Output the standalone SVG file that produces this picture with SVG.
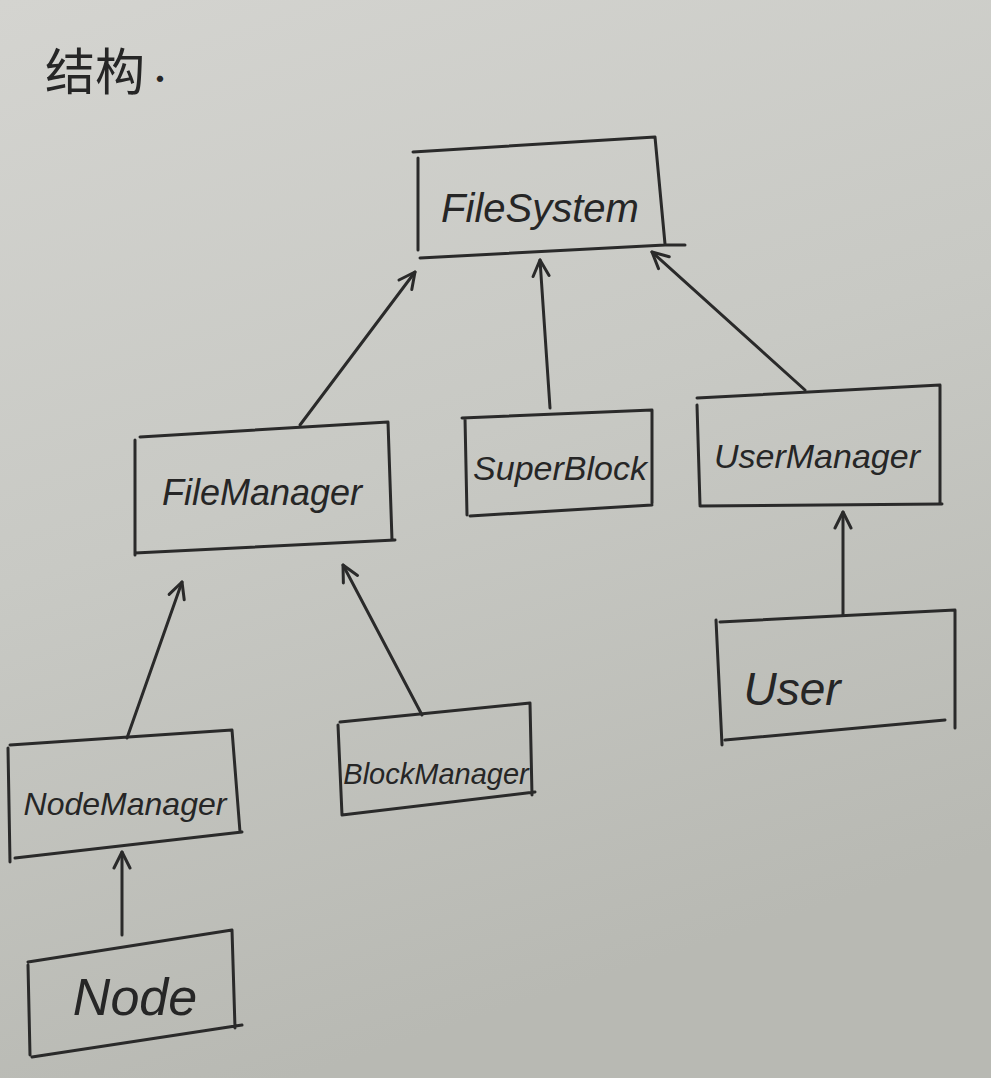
<svg xmlns="http://www.w3.org/2000/svg" width="991" height="1078" viewBox="0 0 991 1078">
<defs>
<linearGradient id="paper" x1="0" y1="0" x2="0.3" y2="1">
<stop offset="0" stop-color="#d4d4d0"/>
<stop offset="0.5" stop-color="#c8c9c4"/>
<stop offset="1" stop-color="#b8b9b3"/>
</linearGradient>
<marker id="arr" viewBox="0 0 20 20" refX="18" refY="10" markerWidth="20" markerHeight="20" markerUnits="userSpaceOnUse" orient="auto">
<path d="M2,2 L18,10 L2,18" fill="none" stroke="#2a2a2a" stroke-width="3" stroke-linecap="round" stroke-linejoin="round"/>
</marker>
<style>
.box{fill:none;stroke:#2a2a2a;stroke-width:3;stroke-linecap:round;stroke-linejoin:round}
.lbl{font-family:"Liberation Sans",sans-serif;fill:#262626;text-anchor:middle;font-style:italic}
.con{fill:none;stroke:#2a2a2a;stroke-width:3;stroke-linecap:round;marker-end:url(#arr)}
</style>
</defs>
<rect width="991" height="1078" fill="url(#paper)"/>
<text x="45" y="90" style="font-family:'Noto Sans CJK SC',sans-serif;font-size:50px;fill:#262626">结构<tspan font-size="30">·</tspan></text>
<g id="connectors">
<path class="con" d="M300,425 L415,272"/>
<path class="con" d="M550,408 L540,260"/>
<path class="con" d="M805,390 L652,252"/>
<path class="con" d="M127,738 L182,582"/>
<path class="con" d="M422,715 L343,565"/>
<path class="con" d="M843,615 L843,512"/>
<path class="con" d="M122,935 L122,852"/>
</g>
<g id="FileSystem">
<path class="box" d="M413,152 L655,137 L665,244 M420,258 L665,245 L685,245 M418,158 L418,250"/>
<text class="lbl" x="540" y="222" font-size="40">FileSystem</text>
</g>
<g id="FileManager">
<path class="box" d="M140,437 L388,422 L392,540 M135,553 L395,540 M135,440 L135,555"/>
<text class="lbl" x="262" y="505" font-size="36">FileManager</text>
</g>
<g id="SuperBlock">
<path class="box" d="M462,418 L652,410 L652,503 M470,516 L652,505 M465,418 L467,515"/>
<text class="lbl" x="560" y="480" font-size="34">SuperBlock</text>
</g>
<g id="UserManager">
<path class="box" d="M697,398 L940,385 L940,502 M700,506 L942,504 M697,405 L700,505"/>
<text class="lbl" x="817" y="468" font-size="34">UserManager</text>
</g>
<g id="User">
<path class="box" d="M720,622 L955,610 L955,728 M725,740 L945,720 M716,620 L722,745"/>
<text class="lbl" x="792" y="705" font-size="46">User</text>
</g>
<g id="NodeManager">
<path class="box" d="M10,745 L232,730 L240,832 M15,858 L242,832 M8,748 L10,862"/>
<text class="lbl" x="125" y="815" font-size="32">NodeManager</text>
</g>
<g id="BlockManager">
<path class="box" d="M340,722 L530,703 L532,795 M342,815 L535,792 M338,725 L342,815"/>
<text class="lbl" x="436" y="784" font-size="29">BlockManager</text>
</g>
<g id="Node">
<path class="box" d="M28,962 L232,930 L235,1028 M32,1057 L242,1025 M28,965 L30,1055"/>
<text class="lbl" x="135" y="1015" font-size="52">Node</text>
</g>
</svg>
